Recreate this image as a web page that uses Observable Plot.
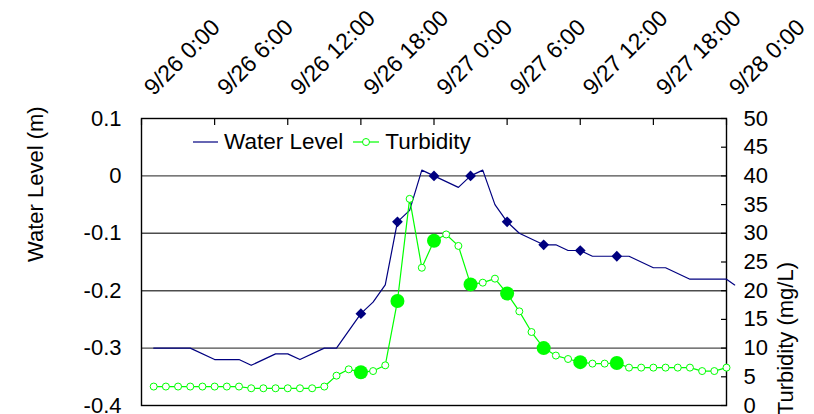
<!DOCTYPE html>
<html>
<head>
<meta charset="utf-8">
<script src="https://cdn.jsdelivr.net/npm/d3@7"></script>
<script src="https://cdn.jsdelivr.net/npm/@observablehq/plot@0.6"></script>
<style>
  body { margin: 0; background: #fff; }
  #chart { position: relative; width: 814px; height: 414px; overflow: hidden; font-family: "Liberation Sans", Arial, sans-serif; }
  .legend { position: absolute; left: 193px; top: 130px; height: 24px; display: flex; align-items: center;
            font-size: 22.5px; white-space: nowrap; color: #000; }
  .legend svg { display: block; }
</style>
</head>
<body>
<div id="chart">
  <div class="legend">
    <svg width="25" height="12"><line x1="0" x2="25" y1="6" y2="6" stroke="#000080" stroke-width="1.2"/></svg>
    <span style="margin-left:6px">Water Level</span>
    <svg width="26" height="12" style="margin-left:10px"><line x1="0" x2="26" y1="6" y2="6" stroke="#00ff00" stroke-width="1.2"/><circle cx="13" cy="6" r="3.5" fill="#fff" stroke="#00ff00" stroke-width="1"/></svg>
    <span style="margin-left:6px">Turbidity</span>
  </div>
</div>
<script>
// Time is counted in hours after 9/26 0:00.
const timeTicks = [0, 6, 12, 18, 24, 30, 36, 42, 48];
const timeLabels = ["9/26 0:00", "9/26 6:00", "9/26 12:00", "9/26 18:00", "9/27 0:00",
                    "9/27 6:00", "9/27 12:00", "9/27 18:00", "9/28 0:00"];

// Water level record (m)
const levelHours  = [1, 4, 6, 8, 9, 11, 12, 13, 15, 16, 18, 19, 20, 21, 22, 23, 24, 26, 27, 28,
                     29, 30, 31, 33, 34, 35, 36, 37, 39, 40, 42, 43, 45, 48, 48.67];
const levelValues = [-0.30, -0.30, -0.32, -0.32, -0.33, -0.31, -0.31, -0.32, -0.30, -0.30,
                     -0.24, -0.22, -0.19, -0.08, -0.06, 0.01, 0.00, -0.02, 0.00, 0.01,
                     -0.05, -0.08, -0.10, -0.12, -0.12, -0.13, -0.13, -0.14, -0.14, -0.14,
                     -0.16, -0.16, -0.18, -0.18, -0.19];

// Hourly turbidity (mg/L)
const turbidityHours  = [1, 2, 3, 4, 5, 6, 7, 8, 9, 10, 11, 12, 13, 14, 15, 16, 17, 18, 19, 20,
                         21, 22, 23, 24, 25, 26, 27, 28, 29, 30, 31, 32, 33, 34, 35, 36, 37, 38,
                         39, 40, 41, 42, 43, 44, 45, 46, 47, 48];
const turbidityValues = [3.3, 3.3, 3.3, 3.3, 3.3, 3.3, 3.3, 3.3, 3.0, 3.0, 3.0, 3.0, 3.0, 3.0,
                         3.3, 5.2, 6.3, 5.8, 6.0, 7.0, 18.2, 36.0, 24.0, 28.7, 29.8, 27.8, 21.1,
                         21.4, 22.1, 19.5, 16.4, 12.8, 10.0, 8.7, 8.1, 7.55, 7.3, 7.3, 7.4, 6.6,
                         6.6, 6.6, 6.6, 6.6, 6.6, 6.0, 6.0, 6.6];

// Grab-sample times, highlighted on both series
const sampleHours = [18, 21, 24, 27, 30, 33, 36, 39];

const levelTicks = [-0.4, -0.3, -0.2, -0.1, 0, 0.1];
const levelTickLabels = ["-0.4", "-0.3", "-0.2", "-0.1", "0", "0.1"];
const levelGrid = [0, -0.1, -0.2, -0.3];
const turbidityTicks = [0, 5, 10, 15, 20, 25, 30, 35, 40, 45, 50];

// Turbidity 0–50 shares the frame with water level -0.4–0.1
const toLevel = (t) => -0.4 + t * 0.5 / 50;
const fromLevel = (v) => Math.round((v + 0.4) * 100);

const level = levelHours.map((h, i) => ({hour: h, value: levelValues[i]}));
const turbidity = turbidityHours.map((h, i) => ({hour: h, value: turbidityValues[i], y: toLevel(turbidityValues[i])}));
const levelSamples = level.filter((d) => sampleHours.includes(d.hour));
const turbiditySamples = turbidity.filter((d) => sampleHours.includes(d.hour));

const squareDiamond = {
  draw(context, size) {
    const h = Math.sqrt(size / 2);
    context.moveTo(0, -h);
    context.lineTo(h, 0);
    context.lineTo(0, h);
    context.lineTo(-h, 0);
    context.closePath();
  }
};

const navy = "#000080";
const lime = "#00ff00";
const fs = 22;

const chart = Plot.plot({
  width: 814,
  height: 414,
  marginLeft: 141,
  marginRight: 88,
  marginTop: 118,
  marginBottom: 9,
  style: {fontFamily: "Liberation Sans, Arial, sans-serif", fontSize: fs + "px", background: "#fff", color: "#000", overflow: "visible"},
  x: {domain: [0, 48], axis: null, label: null},
  y: {domain: [-0.4, 0.1], axis: null, label: null},
  marks: [
    Plot.ruleY(levelGrid, {stroke: "#4d4d4d", strokeWidth: 1.4}),
    Plot.frame({stroke: "#000", strokeWidth: 1.4}),
    Plot.axisY(levelTicks, {anchor: "left", tickSize: 0, tickPadding: 20, label: null,
      tickFormat: (d) => levelTickLabels[levelTicks.indexOf(d)], fontSize: fs}),
    Plot.axisY(turbidityTicks.map(toLevel), {anchor: "right", tickSize: -6, tickPadding: 23, label: null,
      tickFormat: (d) => String(fromLevel(d)), textAnchor: "start", fontSize: fs, strokeWidth: 1.2}),
    Plot.axisX(timeTicks, {anchor: "top", tickSize: -6, tickFormat: () => "", label: null, strokeWidth: 1.2}),
    Plot.text(timeTicks, {x: (d) => d, frameAnchor: "top", text: (d, i) => timeLabels[i],
      rotate: -45, textAnchor: "start", lineAnchor: "bottom", dx: 12, dy: -22, fontSize: 23}),
    Plot.text(["Water Level (m)"], {frameAnchor: "left", rotate: -90, dx: -106, fontSize: fs}),
    Plot.text(["Turbidity (mg/L)"], {frameAnchor: "right", rotate: -90, dx: 59, fontSize: fs}),
    Plot.line(level, {x: "hour", y: "value", stroke: navy, strokeWidth: 1.2}),
    Plot.line(turbidity, {x: "hour", y: "y", stroke: lime, strokeWidth: 1.2}),
    Plot.dot(turbidity, {x: "hour", y: "y", r: 3.5, stroke: lime, fill: "#fff", strokeWidth: 1}),
    Plot.dot(turbiditySamples, {x: "hour", y: "y", r: 7, fill: lime, stroke: null}),
    Plot.dot(levelSamples, {x: "hour", y: "value", r: 4.3, symbol: squareDiamond, fill: navy, stroke: null})
  ]
});

document.getElementById("chart").prepend(chart);
</script>
</body>
</html>
